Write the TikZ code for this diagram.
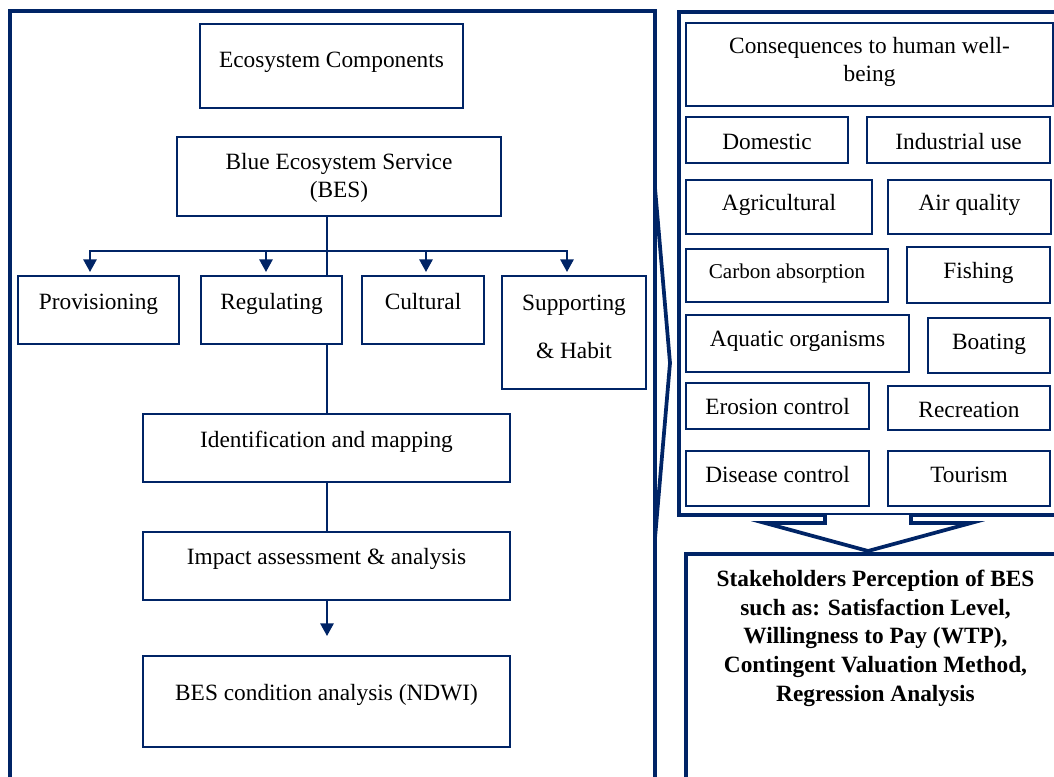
\documentclass[tikz,border=0pt]{standalone}
\usepackage{fontspec}
\setmainfont{Liberation Serif}
\usetikzlibrary{arrows.meta,calc}
\definecolor{navy}{RGB}{0,36,102}
\tikzset{
  box/.style={draw=navy, line width=1.6pt, inner sep=0pt, outer sep=0pt},
  panel/.style={draw=navy, line width=2.8pt, line join=miter},
  lbl/.style={font=\fontsize{17.5}{21.5}\selectfont, align=center, inner sep=0pt, anchor=base},
  small/.style={font=\fontsize{15.8}{19}\selectfont},
  bold/.style={font=\fontsize{17.5}{21.5}\selectfont\bfseries},
  conn/.style={draw=navy, line width=1.5pt},
  arr/.style={conn, -{Triangle[length=9.5pt,width=10pt]}},
}
\newcommand\bx[5]{\node[box, minimum width={(#4-#2)*0.75pt}, minimum height={(#5-#3)*0.75pt}] (#1) at ({(#2+#4)/2},{(#3+#5)/2}) {};}
\newcommand\tx[5][]{\node[lbl,#1] (#2) at (#3,#4) {#5};}
\begin{document}
\begin{tikzpicture}[x=0.75pt,y=-0.75pt]
\useasboundingbox (0,0) rectangle (1054,777);
% ---------- panels ----------
\coordinate (pl1) at (10,800);
\coordinate (pl2) at (10,11);
\coordinate (pl3) at (655,11);
\coordinate (pl4) at (655,800);
\draw[panel] (pl1) -- (pl2) -- (pl3) -- (pl4);
\coordinate (ch1) at (655,188);
\coordinate (ch2) at (670,363);
\coordinate (ch3) at (655,538);
\draw[panel] (ch1) -- (ch2) -- (ch3);
\coordinate (pr1) at (1070,12);
\coordinate (pr2) at (679,12);
\coordinate (pr3) at (679,515);
\coordinate (pr4) at (1070,515);
\draw[panel] (pr1) -- (pr2) -- (pr3) -- (pr4);
% block arrow
\coordinate (ba1) at (825,515);
\coordinate (ba2) at (825,523);
\coordinate (ba3) at (765,523);
\coordinate (ba4) at (868,551);
\coordinate (ba5) at (971,523);
\coordinate (ba6) at (911,523);
\coordinate (ba7) at (911,515);
\draw[panel, fill=white] (ba1) -- (ba2) -- (ba3) -- (ba4) -- (ba5) -- (ba6) -- (ba7);
\coordinate (ps1) at (1070,554);
\coordinate (ps2) at (686,554);
\coordinate (ps3) at (686,800);
\draw[panel] (ps1) -- (ps2) -- (ps3);
% ---------- left column ----------
\bx{eco}{200}{24}{463}{108}
\tx{eco-t}{331.5}{68}{Ecosystem Components}
\bx{bes}{177}{137}{501}{216}
\tx{bes-t}{339}{198}{Blue Ecosystem Service\\(BES)}
\bx{prov}{18}{276}{179}{344}
\tx{prov-t}{98.5}{310}{Provisioning}
\bx{reg}{201}{276}{342}{344}
\tx{reg-t}{271.5}{310}{Regulating}
\bx{cult}{362}{276}{484}{344}
\tx{cult-t}{423}{310}{Cultural}
\bx{supp}{502}{276}{646}{389}
\tx{supp-t}{574}{359}{Supporting\\[15pt]\& Habit}
\bx{ident}{143}{414}{510}{482}
\tx{ident-t}{326.5}{447}{Identification and mapping}
\bx{impact}{143}{532}{510}{600}
\tx{impact-t}{326.5}{564}{Impact assessment \& analysis}
\bx{ndwi}{143}{656}{510}{747}
\tx{ndwi-t}{326.5}{700}{BES condition analysis (NDWI)}
% connectors
\coordinate (tx) at (327,0);
\coordinate (b1) at (90,251);
\coordinate (b2) at (266,251);
\coordinate (b3) at (426,251);
\coordinate (b4) at (567,251);
\draw[conn] (eco.south -| tx) -- (eco.south -| tx |- bes.north);
\draw[conn] (bes.south -| tx) -- (reg.north -| tx);
\draw[conn, line cap=rect] (b1) -- (b4);
\draw[arr, shorten >=3pt] (b1) -- (prov.north -| b1);
\draw[arr, shorten >=3pt] (b2) -- (reg.north -| b2);
\draw[arr, shorten >=3pt] (b3) -- (cult.north -| b3);
\draw[arr, shorten >=3pt] (b4) -- (supp.north -| b4);
\draw[conn] (reg.south -| tx) -- (ident.north -| tx);
\draw[conn] (ident.south -| tx) -- (impact.north -| tx);
\draw[arr, shorten >=15pt] (impact.south -| tx) -- (ndwi.north -| tx);
% ---------- right column ----------
\bx{cons}{686}{23}{1053}{106}
\tx{cons-t}{869.5}{82}{Consequences to human well-\\being}
\bx{dom}{686}{117}{848}{163}
\tx{dom-t}{767}{150}{Domestic}
\bx{ind}{867}{117}{1050}{163}
\tx{ind-t}{958.5}{150}{Industrial use}
\bx{agr}{686}{180}{872}{234}
\tx{agr-t}{779}{211}{Agricultural}
\bx{air}{888}{180}{1051}{234}
\tx{air-t}{969.5}{211}{Air quality}
\bx{carb}{686}{249}{888}{302}
\tx[small]{carb-t}{787}{279}{Carbon absorption}
\bx{fish}{907}{247}{1050}{303}
\tx{fish-t}{978.5}{279}{Fishing}
\bx{aqua}{686}{315}{909}{372}
\tx{aqua-t}{797.5}{347}{Aquatic organisms}
\bx{boat}{928}{318}{1050}{373}
\tx{boat-t}{989}{350}{Boating}
\bx{eros}{686}{383}{869}{429}
\tx{eros-t}{777.5}{415}{Erosion control}
\bx{recr}{888}{386}{1050}{430}
\tx{recr-t}{969}{417}{Recreation}
\bx{dis}{686}{451}{869}{506}
\tx{dis-t}{777.5}{482}{Disease control}
\bx{tour}{888}{451}{1050}{506}
\tx{tour-t}{969}{482}{Tourism}
% stakeholders text
\tx[bold]{stake-t}{875.5}{701}{Stakeholders Perception of BES\\such as: Satisfaction Level,\\Willingness to Pay (WTP),\\Contingent Valuation Method,\\Regression Analysis}
\end{tikzpicture}
\end{document}
